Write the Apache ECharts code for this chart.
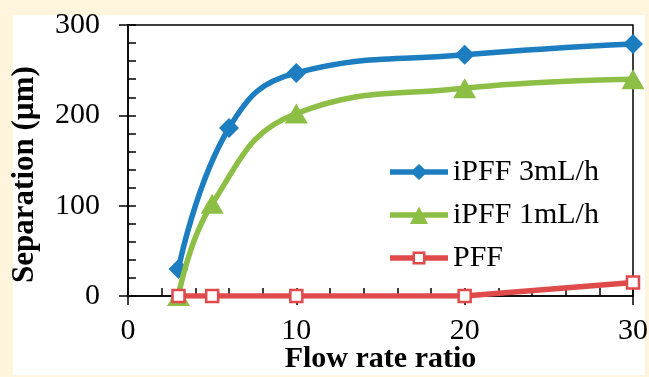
<!DOCTYPE html>
<html>
<head>
<meta charset="utf-8">
<script src="https://cdn.jsdelivr.net/npm/echarts@6/dist/echarts.min.js"></script>
<style>
html,body{margin:0;padding:0;background:#FEF5DC;}
#c{width:649px;height:377px;}
</style>
</head>
<body>
<div id="c"></div>
<script>
const xIpff3 = [3, 6, 10, 20, 30];
const yIpff3 = [30, 186, 247, 267, 279];
const xIpff1 = [3, 5, 10, 20, 30];
const yIpff1 = [0, 102, 202, 230, 240];
const xPff = [3, 5, 10, 20, 30];
const yPff = [0, 0, 0, 0, 15];
const seriesNames = ['iPFF 3mL/h', 'iPFF 1mL/h', 'PFF'];
const xTitle = 'Flow rate ratio';
const yTitle = 'Separation (µm)';
const colors = ['#1C7DC1', '#8DBE45', '#E04A4A'];

function pairs(xs, ys) { return xs.map((x, i) => [x, ys[i]]); }

// legend icons: thick line + marker, in a 58 x 18 box
const pad = 'M0,0 L0.01,0 L0.01,0.01 Z M0,18 L0.01,18 L0.01,17.99 Z ';
const iconDiamond = 'path://' + pad + 'M0,6.2 L58,6.2 L58,11.8 L0,11.8 Z M20.5,9 L29,1 L37.5,9 L29,17 Z';
const iconTriangle = 'path://' + pad + 'M0,6.2 L58,6.2 L58,11.8 L0,11.8 Z M20,18 L29,0.5 L38,18 Z';
const iconSquare = 'path://' + pad + 'M0,6.2 L22.5,6.2 L22.5,11.8 L0,11.8 Z M35.5,6.2 L58,6.2 L58,11.8 L35.5,11.8 Z ' +
  'M22.5,2.5 L35.5,2.5 L35.5,15.5 L22.5,15.5 Z M25,5 L25,13 L33,13 L33,5 Z';

const font = '"Liberation Serif", "Times New Roman", serif';
const chart = echarts.init(document.getElementById('c'));
chart.setOption({
  backgroundColor: '#FEF5DC',
  animation: false,
  graphic: [{
    type: 'rect', z: -10, silent: true,
    shape: { x: 13, y: 15, width: 632, height: 360 },
    style: { fill: '#ffffff' }
  }],
  grid: {
    left: 128, top: 25, right: 16, bottom: 81,
    outerBoundsMode: 'none', containLabel: false,
    show: true, backgroundColor: '#ffffff', borderColor: '#000', borderWidth: 1.5
  },
  legend: {
    orient: 'vertical', left: 385, top: 152,
    itemWidth: 58, itemHeight: 18, itemGap: 13,
    textStyle: { fontFamily: font, fontSize: 30, color: '#000' },
    data: [
      { name: seriesNames[0], icon: iconDiamond, itemStyle: { color: colors[0], borderWidth: 0 } },
      { name: seriesNames[1], icon: iconTriangle, itemStyle: { color: colors[1], borderWidth: 0 } },
      { name: seriesNames[2], icon: iconSquare, itemStyle: { color: colors[2], borderWidth: 0 } }
    ]
  },
  xAxis: [{
    type: 'value', min: 0, max: 30, interval: 10,
    axisLine: { lineStyle: { color: '#000', width: 1.5 } },
    axisTick: { show: true, inside: false, length: 9, lineStyle: { color: '#000', width: 1.5 } },
    axisLabel: { fontFamily: font, fontSize: 30, color: '#000', margin: 20 },
    splitLine: { show: false },
    name: xTitle, nameLocation: 'middle', nameGap: 48, nameMoveOverlap: false,
    nameTextStyle: { fontFamily: font, fontSize: 30, fontWeight: 'bold', color: '#000' }
  }, {
    type: 'value', min: 0, max: 30, interval: 10, position: 'bottom',
    axisLine: { show: false },
    axisTick: { show: true, inside: true, length: 8, lineStyle: { color: '#000', width: 1.5 } },
    minorTick: { show: true, splitNumber: 5, length: 8, lineStyle: { color: '#000', width: 1.5 } },
    axisLabel: { show: false }, splitLine: { show: false }
  }],
  yAxis: [{
    type: 'value', min: 0, max: 300, interval: 100,
    axisLine: { show: true, lineStyle: { color: '#000', width: 1.5 } },
    axisTick: { show: true, inside: false, length: 9, lineStyle: { color: '#000', width: 1.5 } },
    axisLabel: { fontFamily: font, fontSize: 30, color: '#000', margin: 28 },
    splitLine: { show: false },
    name: yTitle, nameLocation: 'middle', nameGap: 88, nameMoveOverlap: false,
    nameTextStyle: { fontFamily: font, fontSize: 31, fontWeight: 'bold', color: '#000', padding: [0, 28, 0, 0] }
  }, {
    type: 'value', min: 0, max: 300, interval: 100, position: 'left',
    axisLine: { show: false },
    axisTick: { show: true, inside: true, length: 8, lineStyle: { color: '#000', width: 1.5 } },
    minorTick: { show: true, splitNumber: 5, length: 8, lineStyle: { color: '#000', width: 1.5 } },
    axisLabel: { show: false }, splitLine: { show: false }
  }],
  series: [{
    name: seriesNames[0], type: 'line', data: pairs(xIpff3, yIpff3),
    smooth: 0.45, symbol: 'diamond', symbolSize: 20,
    lineStyle: { color: colors[0], width: 5.5 },
    itemStyle: { color: colors[0] }, z: 2
  }, {
    name: seriesNames[1], type: 'line', data: pairs(xIpff1, yIpff1),
    smooth: 0.45, symbol: 'triangle', symbolSize: [23, 20],
    lineStyle: { color: colors[1], width: 5.5 },
    itemStyle: { color: colors[1] }, z: 3
  }, {
    name: seriesNames[2], type: 'line', data: pairs(xPff, yPff),
    smooth: false, symbol: 'rect', symbolSize: 12,
    lineStyle: { color: colors[2], width: 5.5 },
    itemStyle: { color: '#ffffff', borderColor: colors[2], borderWidth: 2.5 }, z: 4
  }]
});
</script>
</body>
</html>
